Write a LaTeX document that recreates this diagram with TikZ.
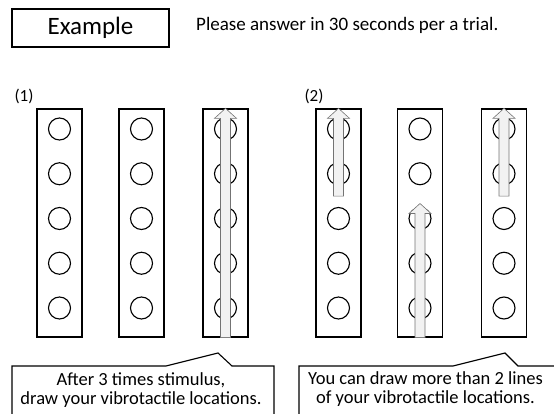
\documentclass[tikz,border=0pt]{standalone}
\usepackage{fontspec}
\setmainfont{Carlito}
\usetikzlibrary{calc}

\tikzset{
  board/.style={draw, line width=1.3pt, minimum width=45pt, minimum height=228pt, inner sep=0pt},
  motor/.style={circle, draw, line width=1.1pt, minimum size=22pt, inner sep=0pt},
  trace/.style={draw=black!55, fill=black!5, line width=0.6pt},
  bubble/.style={line width=1.1pt},
  note/.style={align=center, inner sep=0pt, font=\fontsize{18.5}{19}\selectfont},
}

% fat arrow from tail point to tip point
\newcommand{\sweep}[2]{%
  \filldraw[trace] ($(#1)+(-5,0)$) -- ($(#2)+(-5,10)$) -- ($(#2)+(-11,10)$) -- (#2)
    -- ($(#2)+(11,10)$) -- ($(#2)+(5,10)$) -- ($(#1)+(5,0)$) -- cycle;}

\begin{document}
\begin{tikzpicture}[x=1pt, y=-1pt]
    \useasboundingbox (0,0) rectangle (554,414);

    \node[draw, line width=1.1pt, minimum width=157pt, minimum height=38pt] (title) at (90.5,28)
        {\fontsize{25}{30}\selectfont Example};
    \node[anchor=west, inner sep=0pt] (rule) at (196,25)
        {\fontsize{19}{23}\selectfont Please answer in 30 seconds per a trial.};

    \node[inner sep=0pt, font=\fontsize{17}{20}\selectfont] (lab1) at (24,96) {(1)};
    \node[inner sep=0pt, font=\fontsize{17}{20}\selectfont] (lab2) at (314,96) {(2)};

    % boards with five motors each
    \foreach \x [count=\i] in {59.5,141.5,225.5,338.5,420,504} {
        \node[board] (col\i) at (\x,223) {};
        \foreach \k in {1,...,5}
            \node[motor] (m\i-\k) at (\x,{129+44.75*(\k-1)}) {};
    }

    % answers
    \sweep{col3.south}{col3.north}
    \coordinate (tail4) at ($(m4-2)!0.5!(m4-3)$);
    \sweep{tail4}{col4.north}
    \coordinate (tip5) at ($(m5-3)+(0,-15)$);
    \sweep{col5.south}{tip5}
    \coordinate (tail6) at ($(m6-2)!0.5!(m6-3)$);
    \sweep{tail6}{col6.north}

    % callouts
    \node[note] (note1) at (141,390) {After 3 times stimulus,\\draw your vibrotactile locations.};
    \coordinate (tip1) at (218,353);
    \draw[bubble] (12,416) -- (12,366) -- (166,366) -- (tip1) -- (232,366) -- (274,366) -- (274,416);

    \node[note] (note2) at (425.5,389) {You can draw more than 2 lines\\of your vibrotactile locations.};
    \coordinate (tip2) at (505,353);
    \draw[bubble] (299,416) -- (299,366) -- (453,366) -- (tip2) -- (518,366) -- (556,366);
\end{tikzpicture}
\end{document}
